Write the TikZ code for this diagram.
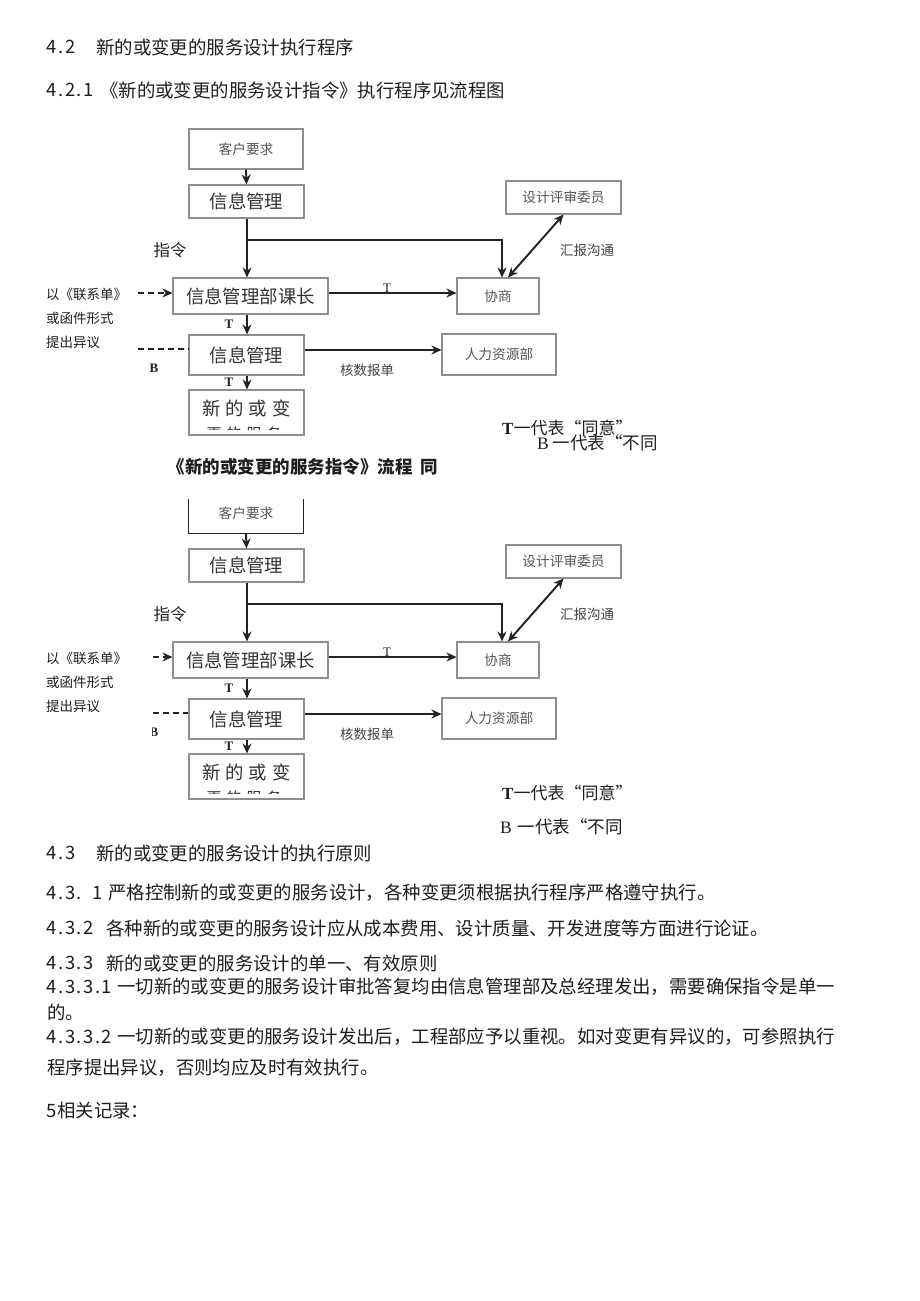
\documentclass[tikz,border=0pt]{standalone}
\usepackage{fontspec}
\setmainfont{Liberation Serif}
\newfontfamily\cjk{Noto Sans CJK SC}
\usetikzlibrary{arrows.meta}
\definecolor{boxgray}{HTML}{8E8E8E}
\definecolor{linedark}{HTML}{222222}
\definecolor{boxtext}{HTML}{555555}
\definecolor{bigtext}{HTML}{333333}
\definecolor{labeltext}{HTML}{444444}
\definecolor{bodytext}{HTML}{1E1E1E}
\newcommand\hw[1]{\makebox[9.2pt]{#1}}
\tikzset{
  >={Stealth[length=10pt,width=9pt]},
  box/.style={draw=boxgray, line width=1.1pt, inner sep=0pt, font=\cjk\fontsize{13.7}{15}\selectfont, text=boxtext},
  bigbox/.style={box, font=\cjk\fontsize{18.4}{20}\selectfont, text=bigtext},
  bigtxt/.style={inner sep=0pt, font=\cjk\fontsize{18.4}{20}\selectfont, text=bigtext},
  flow/.style={draw=linedark, line width=1.9pt, ->},
  plain/.style={draw=linedark, line width=1.9pt},
  dashline/.style={draw=linedark, line width=1.5pt, dash pattern=on 6pt off 4pt},
  lbl/.style={inner sep=0pt, font=\cjk\fontsize{13.5}{15}\selectfont, text=labeltext},
  side/.style={inner sep=0pt, anchor=west, font=\cjk\fontsize{13.5}{15}\selectfont, text=bodytext},
  tl/.style={inner sep=0pt, font=\bfseries\fontsize{13}{14}\selectfont, text=linedark},
  body/.style={inner sep=0pt, anchor=west, font=\cjk\fontsize{18.4}{20}\selectfont, text=bodytext},
  legend/.style={inner sep=0pt, anchor=west, font=\cjk\fontsize{17}{19}\selectfont, text=bodytext},
  caption/.style={inner sep=0pt, font=\cjk\bfseries\fontsize{17.5}{19}\selectfont, text=bodytext}
}
% #1 prefix, #2 start x of dashed lines, #3 clip x for the B label
\newcommand\drawflow[3]{%
  \node[bigbox, minimum width=115pt, minimum height=33pt] (#1top) at (246.5,201.5) {信息管理};
  \node[bigbox, minimum width=155pt, minimum height=36pt] (#1kz) at (250.5,296) {信息管理部课长};
  \node[bigbox, minimum width=115pt, minimum height=40pt] (#1mid) at (246.5,355) {信息管理};
  \node[box, minimum width=115pt, minimum height=45pt] (#1new) at (246.5,412.5) {};
  \node[bigtxt] (#1newa) at (246.5,408) {新\hspace{5pt}的\hspace{5pt}或\hspace{5pt}变};
  \begin{scope}
    \clip (190,420) rectangle (303,429.5);
    \node[bigtxt, font=\cjk\fontsize{15}{16}\selectfont] (#1newb) at (244,433.5) {更\hspace{5pt}的\hspace{5pt}服\hspace{5pt}务};
  \end{scope}
  \node[box, minimum width=115pt, minimum height=33pt] (#1rev) at (563.5,197.5) {设计评审委员};
  \node[box, minimum width=82pt, minimum height=36pt] (#1xs) at (498,296) {协商};
  \node[box, minimum width=114pt, minimum height=41pt] (#1hr) at (499,354.5) {人力资源部};
  \coordinate (#1br) at (247,240);
  \coordinate (#1bend) at (502,240);
  \draw[flow] (#1top.south -| #1br) -- (#1kz.north -| #1br);
  \draw[flow] (#1br) -- (#1bend) -- (#1bend |- #1xs.north);
  \draw[flow] ([yshift=3pt]#1kz.east) -- ([yshift=3pt]#1xs.west);
  \draw[flow] (#1kz.south -| #1br) -- (#1mid.north -| #1br);
  \draw[flow] (#1mid.south -| #1br) -- (#1new.north -| #1br);
  \draw[flow] ([yshift=5pt]#1mid.east) -- ([yshift=5pt]#1mid.east -| #1hr.west);
  \draw[flow, <->] (#1rev.south) -- ([xshift=10pt]#1xs.north);
  \coordinate (#1da) at (#2,293);
  \coordinate (#1db) at (#2,349);
  \draw[dashline, ->] (#1da) -- (#1da -| #1kz.west);
  \draw[dashline] (#1db) -- (#1db -| #1mid.west);
  \node[lbl, font=\cjk\fontsize{16.5}{18}\selectfont, text=linedark] (#1zl) at (170,250) {指令};
  \node[lbl] (#1hb) at (587,250) {汇报沟通};
  \node[lbl] (#1hs) at (367,370) {核数报单};
  \node[tl, font=\fontsize{13}{14}\selectfont] (#1t1) at (387,288.5) {T};
  \node[tl] (#1t2) at (229,324) {T};
  \node[tl] (#1t3) at (229,382) {T};
  \begin{scope}
    \clip (#3,355) rectangle (175,380);
    \node[tl] (#1b) at (154,368) {B};
  \end{scope}
  \node[side] (#1s1) at (46,294.5) {以《联系单》};
  \node[side] (#1s2) at (46,318.5) {或函件形式};
  \node[side] (#1s3) at (46,342) {提出异议};
}
\begin{document}
\begin{tikzpicture}[x=1pt,y=-1pt]
\useasboundingbox (0,0) rectangle (920,1301);
\fill[white] (0,0) rectangle (920,1301);

% headings
\node[body] (h42n) at (47,47) {\hw4\hw.\hw2};
\node[body] (h42t) at (96,47) {新的或变更的服务设计执行程序};
\node[body] (h421n) at (47,90) {\hw4\hw.\hw2\hw.\hw1};
\node[body] (h421t) at (100,90) {《新的或变更的服务设计指令》执行程序见流程图};

% first flowchart
\drawflow{a-}{138}{100}
\node[box, minimum width=114pt, minimum height=40pt] (a-req) at (246,149) {客户要求};
\draw[flow] (a-req.south) -- (a-top.north);
\node[legend] (a-lt) at (502,428) {{\rmfamily\bfseries T}一代表“同意”};
\node[legend, font=\cjk\fontsize{17.5}{19}\selectfont] (a-lb) at (537,443) {{\rmfamily B} 一代表“不同};

% caption
\node[caption] (cap) at (303,467) {《新的或变更的服务指令》流程\hspace{8pt}同};

% second flowchart
\begin{scope}[shift={(0,364)}]
  \drawflow{b-}{153}{152}
  \node[box, draw=none, minimum width=114pt, minimum height=40pt] (b-req) at (246,149) {客户要求};
  \draw[draw=linedark, line width=1.4pt] ([yshift=-7pt]b-req.north west) -- (b-req.south west) -- (b-req.south east) -- ([yshift=-7pt]b-req.north east);
  \draw[flow] (b-req.south) -- (b-top.north);
\end{scope}
\node[legend] (b-lt) at (502,793) {{\rmfamily\bfseries T}一代表“同意”};
\node[legend, font=\cjk\fontsize{17.5}{19}\selectfont] (b-lb) at (500,827) {{\rmfamily B}\hspace{6pt}一代表“不同};

% section 4.3
\node[body] (h43n) at (47,853) {\hw4\hw.\hw3};
\node[body] (h43t) at (96,853) {新的或变更的服务设计的执行原则};
\node[body] (p431n) at (47,893) {\hw4\hw.\hw3\hw.\hw{}\hw1};
\node[body] (p431t) at (108,893) {严格控制新的或变更的服务设计，各种变更须根据执行程序严格遵守执行。};
\node[body] (p432n) at (47,928) {\hw4\hw.\hw3\hw.\hw2};
\node[body] (p432t) at (106,928) {各种新的或变更的服务设计应从成本费用、设计质量、开发进度等方面进行论证。};
\node[body] (p433n) at (47,963) {\hw4\hw.\hw3\hw.\hw3};
\node[body] (p433t) at (106,963) {新的或变更的服务设计的单一、有效原则};
\node[body] (p4331n) at (47,987) {\hw4\hw.\hw3\hw.\hw3\hw.\hw1};
\node[body] (p4331t) at (117,987) {一切新的或变更的服务设计审批答复均由信息管理部及总经理发出，需要确保指令是单一};
\node[body] (p4331c) at (47,1012) {的。};
\node[body] (p4332n) at (47,1037) {\hw4\hw.\hw3\hw.\hw3\hw.\hw2};
\node[body] (p4332t) at (117,1037) {一切新的或变更的服务设计发出后，工程部应予以重视。如对变更有异议的，可参照执行};
\node[body] (p4332c) at (47,1068) {程序提出异议，否则均应及时有效执行。};
\node[body] (p5n) at (47,1111) {\hw5};
\node[body] (p5t) at (57,1111) {相关记录：};
\end{tikzpicture}
\end{document}
